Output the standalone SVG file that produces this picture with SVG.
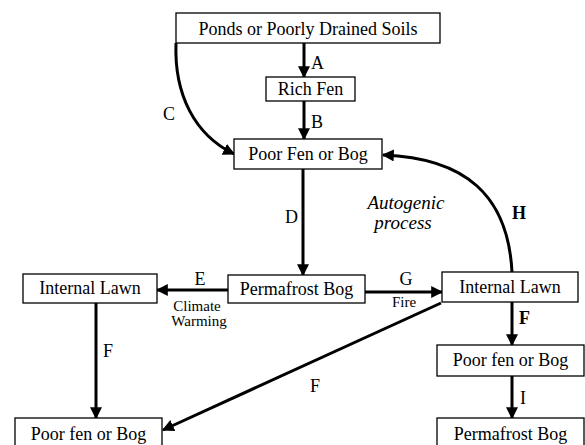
<svg xmlns="http://www.w3.org/2000/svg" width="585" height="445" viewBox="0 0 585 445">
<style>
.box{fill:#fff;stroke:#000;stroke-width:1.3}
.t{font-family:"Liberation Serif","Times New Roman",serif;font-size:18px;fill:#000;text-anchor:middle}
.s{font-family:"Liberation Serif","Times New Roman",serif;font-size:15px;fill:#000;text-anchor:middle}
.lbl{font-family:"Liberation Serif","Times New Roman",serif;font-size:18px;fill:#000}
.it{font-family:"Liberation Serif","Times New Roman",serif;font-size:19px;font-style:italic;fill:#000;text-anchor:middle}
.c{fill:none;stroke:#000;stroke-width:3}
</style>
<defs>
<marker id="ah" viewBox="0 0 10 10" refX="9" refY="5" markerWidth="4" markerHeight="4" orient="auto" markerUnits="strokeWidth">
<path d="M0,0 L10,5 L0,10 z" fill="#000"/>
</marker>
</defs>
<rect width="585" height="445" fill="#fff"/>
<g id="connectors">
<line class="c" x1="304" y1="43" x2="304" y2="77" marker-end="url(#ah)"/>
<line class="c" x1="304" y1="101" x2="304" y2="139" marker-end="url(#ah)"/>
<path class="c" d="M176,43 C174,95 195,135 234,154" marker-end="url(#ah)"/>
<path class="c" d="M512,272 C508,195 465,158 383,155" marker-end="url(#ah)"/>
<line class="c" x1="303" y1="169" x2="303" y2="275" marker-end="url(#ah)"/>
<line class="c" x1="228" y1="290" x2="157" y2="290" marker-end="url(#ah)"/>
<line class="c" x1="365" y1="292" x2="442" y2="292" marker-end="url(#ah)"/>
<line class="c" x1="96" y1="303" x2="96" y2="418" marker-end="url(#ah)"/>
<line class="c" x1="441" y1="303" x2="163" y2="430" marker-end="url(#ah)"/>
<line class="c" x1="512" y1="302" x2="512" y2="345" marker-end="url(#ah)"/>
<line class="c" x1="512" y1="376" x2="512" y2="418" marker-end="url(#ah)"/>
<text class="lbl" x="311" y="69">A</text>
<text class="lbl" x="311" y="128">B</text>
<text class="lbl" x="163" y="120">C</text>
<text class="lbl" x="285" y="223">D</text>
<text class="lbl" x="512" y="219" font-weight="bold">H</text>
<text class="t" x="200" y="285">E</text>
<text class="s" x="197" y="311">Climate</text>
<text class="s" x="199" y="326">Warming</text>
<text class="t" x="406" y="285">G</text>
<text class="s" x="404" y="307">Fire</text>
<text class="lbl" x="103" y="357">F</text>
<text class="lbl" x="310" y="392">F</text>
<text class="lbl" x="519" y="324" font-weight="bold">F</text>
<text class="lbl" x="520" y="404">I</text>
<text class="it" x="406" y="209">Autogenic</text>
<text class="it" x="403" y="229">process</text>
</g>
<g id="ponds"><rect class="box" x="176" y="13" width="264" height="30"/><text class="t" x="308" y="35">Ponds or Poorly Drained Soils</text></g>
<g id="rich-fen"><rect class="box" x="266" y="77" width="89" height="24"/><text class="t" x="310.5" y="95">Rich Fen</text></g>
<g id="poor-fen-top"><rect class="box" x="234" y="139" width="148" height="30"/><text class="t" x="308" y="160">Poor Fen or Bog</text></g>
<g id="permafrost-center"><rect class="box" x="228" y="275" width="137" height="28"/><text class="t" x="296.5" y="295">Permafrost Bog</text></g>
<g id="lawn-left"><rect class="box" x="23" y="274" width="134" height="29"/><text class="t" x="90" y="294">Internal Lawn</text></g>
<g id="lawn-right"><rect class="box" x="442" y="272" width="136" height="30"/><text class="t" x="510" y="293">Internal Lawn</text></g>
<g id="poor-fen-left"><rect class="box" x="15" y="418" width="147" height="30"/><text class="t" x="88.5" y="440">Poor fen or Bog</text></g>
<g id="poor-fen-right"><rect class="box" x="437" y="345" width="147" height="31"/><text class="t" x="510.5" y="366">Poor fen or Bog</text></g>
<g id="permafrost-right"><rect class="box" x="437" y="418" width="147" height="30"/><text class="t" x="510.5" y="440">Permafrost Bog</text></g>
</svg>
